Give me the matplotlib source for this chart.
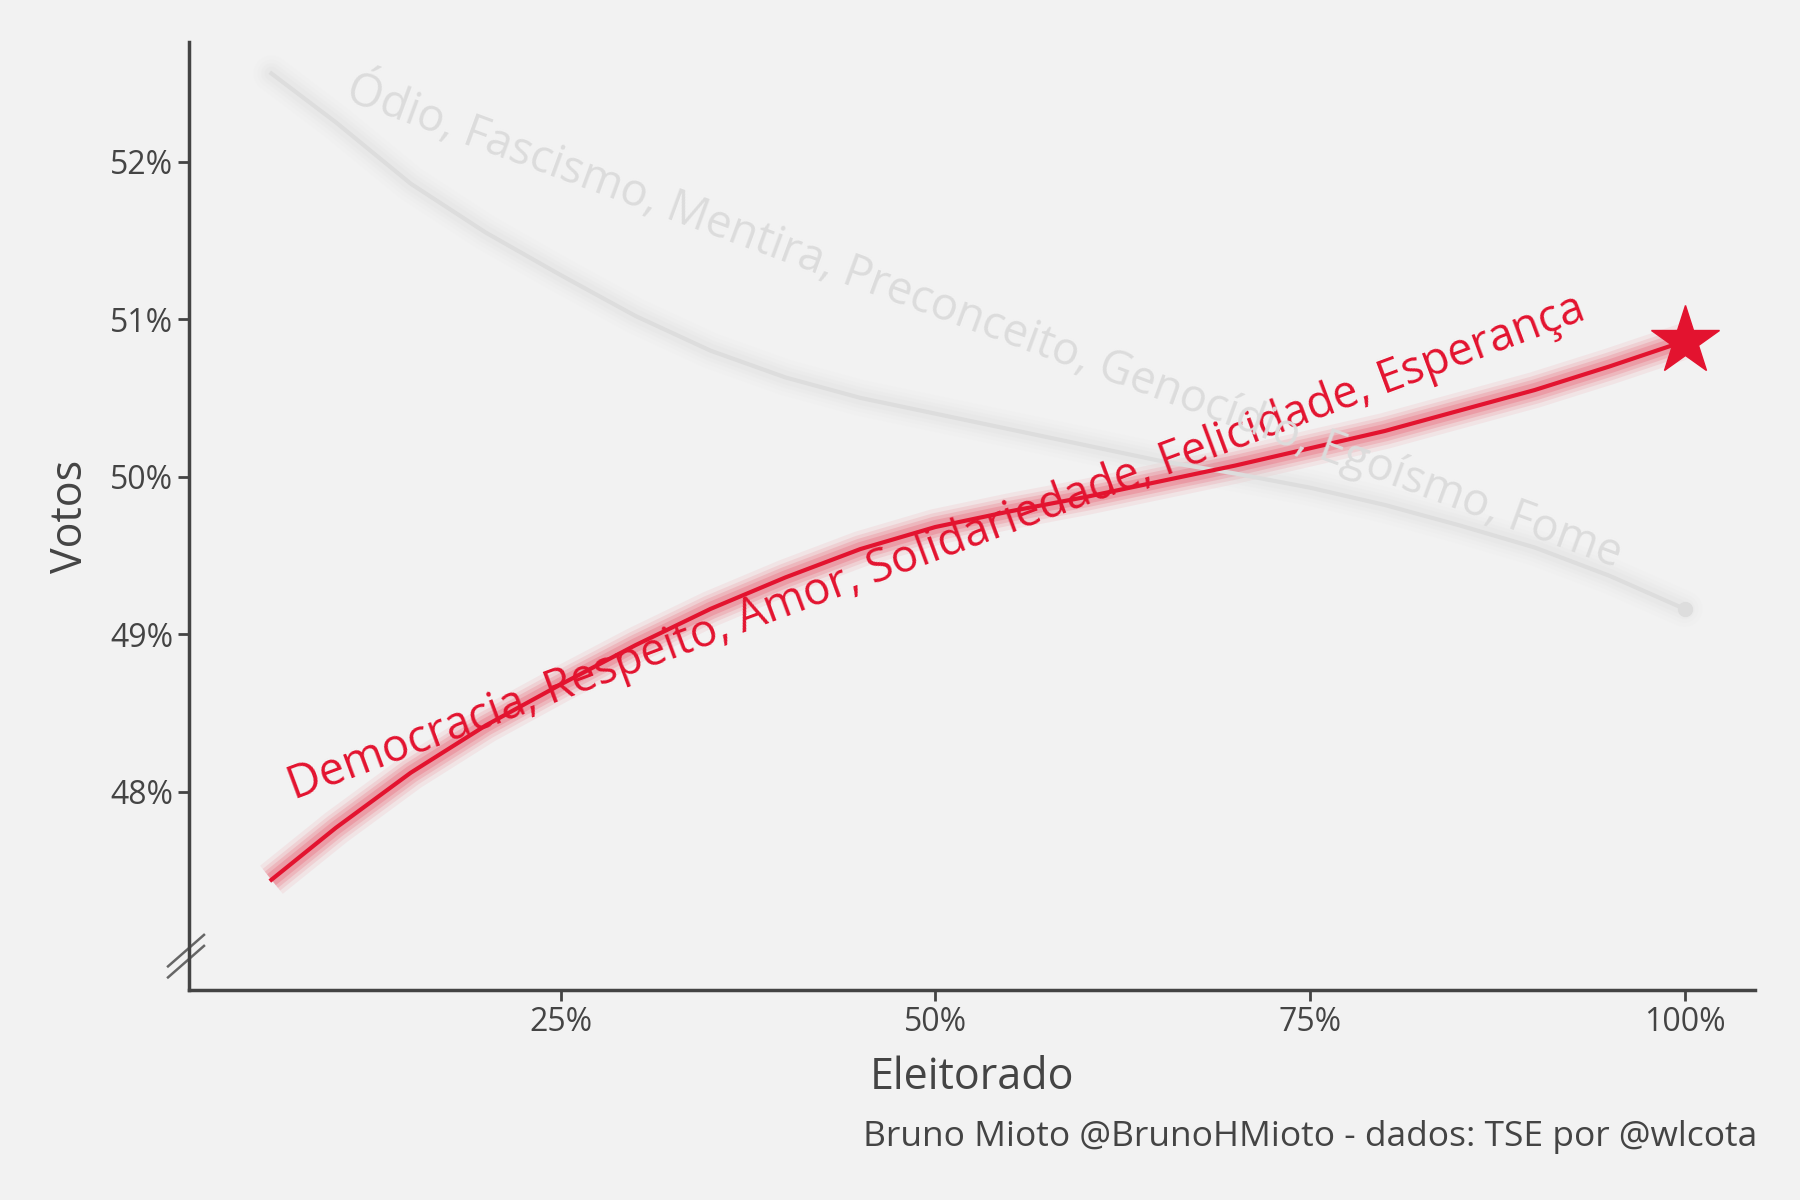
import numpy as np
import matplotlib.pyplot as plt

plt.rcParams['font.family'] = ['Open Sans', 'DejaVu Sans']

# valores
x_red = [5.7, 10, 15, 20, 25, 30, 35, 40, 45, 50, 55, 60, 65, 70, 75, 80, 85, 90, 95, 100]
y_red = [47.44, 47.77, 48.12, 48.42, 48.68, 48.93, 49.16, 49.36, 49.54, 49.68, 49.78, 49.87, 49.97, 50.07, 50.18, 50.29, 50.42, 50.55, 50.70, 50.86]
x_gray = [5.7, 10, 15, 20, 25, 30, 35, 40, 45, 50, 55, 60, 65, 70, 75, 80, 85, 90, 95, 100]
y_gray = [52.56, 52.25, 51.86, 51.55, 51.28, 51.02, 50.80, 50.63, 50.50, 50.40, 50.30, 50.20, 50.10, 50.02, 49.93, 49.82, 49.69, 49.55, 49.37, 49.16]
label_red = 'Democracia, Respeito, Amor, Solidariedade, Felicidade, Esperança'
label_gray = 'Ódio, Fascismo, Mentira, Preconceito, Genocídio, Egoísmo, Fome'
xticks = [25, 50, 75, 100]
yticks = [48, 49, 50, 51, 52]

red = '#e3132f'
bg = '#f2f2f2'
fig, ax = plt.subplots(figsize=(18, 12), dpi=100)
fig.patch.set_facecolor(bg)
ax.set_facecolor(bg)
fig.subplots_adjust(left=0.105, right=0.975, top=0.965, bottom=0.175)

# brilho
for w, a in [(26, 0.04), (20, 0.06), (15, 0.08), (10, 0.1)]:
    ax.plot(x_gray, y_gray, color='#d8d8d8', lw=w, alpha=a * 1.2, solid_capstyle='round')
    ax.plot(x_red, y_red, color=red, lw=w, alpha=a * 1.6, solid_capstyle='butt')
ax.plot(x_gray, y_gray, color='#dddddd', lw=3)
ax.plot(x_gray[-1], y_gray[-1], 'o', color='#dddddd', ms=10)
ax.plot(x_red, y_red, color=red, lw=3)
ax.plot(x_red[-1], y_red[-1], '*', color=red, ms=52, mec=red)

ax.text(7.5, 47.88, label_red, color=red, fontsize=32.5, rotation=20.4,
        rotation_mode='anchor', ha='left', va='bottom')
ax.text(10.3, 52.33, label_gray, color='#dcdcdc', fontsize=32.5, rotation=-20.2,
        rotation_mode='anchor', ha='left', va='bottom')

ax.set_xlim(0.2, 104.7)
ax.set_ylim(46.74, 52.76)
ax.set_xticks(xticks)
ax.set_xticklabels([f'{t}%' for t in xticks])
ax.set_yticks(yticks)
ax.set_yticklabels([f'{t}%' for t in yticks])
for s in ['top', 'right']:
    ax.spines[s].set_visible(False)
for s in ['left', 'bottom']:
    ax.spines[s].set_color('#444444')
    ax.spines[s].set_linewidth(2.5)
ax.tick_params(colors='#444444', labelsize=23, width=2, length=8)
ax.set_xlabel('Eleitorado', fontsize=31, color='#444444', labelpad=12)
ax.set_ylabel('Votos', fontsize=31, color='#444444', labelpad=12)

# quebra do eixo
for dy in [0, 0.07]:
    ax.plot([-1.2, 1.2], [46.82 + dy, 47.02 + dy], color='#666666', lw=1.8,
            clip_on=False, transform=ax.transData)

fig.text(0.976, 0.045, 'Bruno Mioto @BrunoHMioto - dados: TSE por @wlcota',
         ha='right', fontsize=25.5, color='#444444')
fig.savefig('out.png', facecolor=bg)
